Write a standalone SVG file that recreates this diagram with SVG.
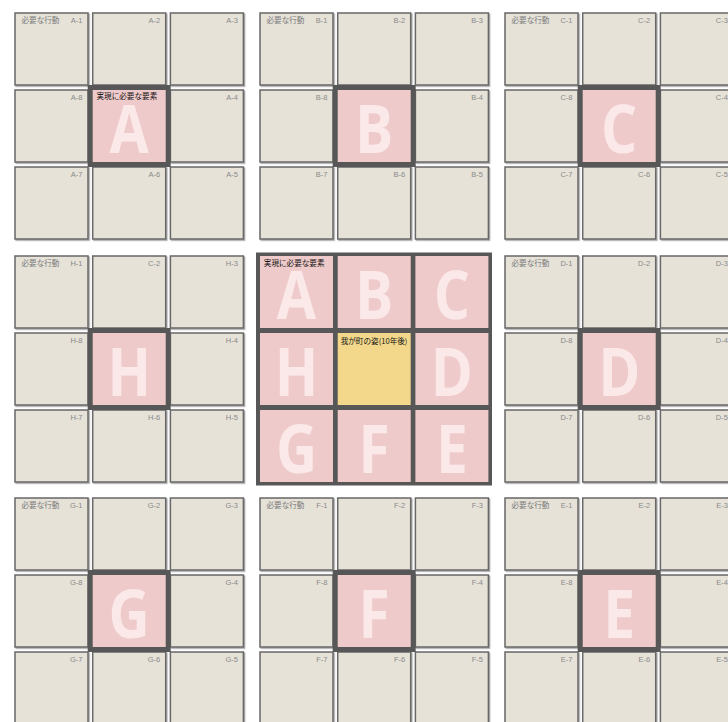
<svg xmlns="http://www.w3.org/2000/svg" width="728" height="722" viewBox="0 0 728 722">
<defs>
<style>
.cell{fill:#e6e2d8;stroke:#676767;stroke-width:1.5}
.dark{fill:#575757}
.pink{fill:#efcaca}
.yel{fill:#f3d88b}
.lbl{font-family:"Liberation Sans",Arial,sans-serif;font-size:7.5px;fill:#8a8a8a;text-anchor:end}
.act{font-family:"Noto Sans CJK JP","Noto Sans",sans-serif;font-size:7.6px;fill:#7a7a7a}
.req{font-family:"Noto Sans CJK JP","Noto Sans",sans-serif;font-size:7.6px;fill:#141414}
.big{font-family:"Open Sans","Noto Sans",sans-serif;font-weight:700;font-size:67px;fill:#fbe8e8;text-anchor:middle}
</style>
<filter id="sh" x="-5%" y="-5%" width="115%" height="115%">
<feDropShadow dx="1.2" dy="1.2" stdDeviation="0" flood-color="#a9a9a9"/>
</filter>
</defs>
<rect width="728" height="722" fill="#ffffff"/>

<!-- Block A -->
<g id="block-A">
<g filter="url(#sh)">
<rect class="cell" x="15" y="13" width="73" height="72"/>
<rect class="cell" x="92.7" y="13" width="73" height="72"/>
<rect class="cell" x="170.4" y="13" width="73" height="72"/>
<rect class="cell" x="15" y="90" width="73" height="72"/>
<rect class="cell" x="170.4" y="90" width="73" height="72"/>
<rect class="cell" x="15" y="167" width="73" height="72"/>
<rect class="cell" x="92.7" y="167" width="73" height="72"/>
<rect class="cell" x="170.4" y="167" width="73" height="72"/>
</g>
<rect class="dark" x="87.7" y="85" width="83" height="82"/>
<rect class="pink" x="92.7" y="90" width="73" height="72"/>
<text class="big" transform="translate(129.2,153) scale(0.85,1)">A</text>
<text class="req" x="96.5" y="99">実現に必要な要素</text>
<text class="act" x="21.5" y="23">必要な行動</text>
<text class="lbl" x="82.5" y="23">A-1</text>
<text class="lbl" x="160.2" y="23">A-2</text>
<text class="lbl" x="237.9" y="23">A-3</text>
<text class="lbl" x="237.9" y="100">A-4</text>
<text class="lbl" x="237.9" y="177">A-5</text>
<text class="lbl" x="160.2" y="177">A-6</text>
<text class="lbl" x="82.5" y="177">A-7</text>
<text class="lbl" x="82.5" y="100">A-8</text>
</g>

<!-- Block B -->
<g id="block-B">
<g filter="url(#sh)">
<rect class="cell" x="260" y="13" width="73" height="72"/>
<rect class="cell" x="337.7" y="13" width="73" height="72"/>
<rect class="cell" x="415.4" y="13" width="73" height="72"/>
<rect class="cell" x="260" y="90" width="73" height="72"/>
<rect class="cell" x="415.4" y="90" width="73" height="72"/>
<rect class="cell" x="260" y="167" width="73" height="72"/>
<rect class="cell" x="337.7" y="167" width="73" height="72"/>
<rect class="cell" x="415.4" y="167" width="73" height="72"/>
</g>
<rect class="dark" x="332.7" y="85" width="83" height="82"/>
<rect class="pink" x="337.7" y="90" width="73" height="72"/>
<text class="big" transform="translate(374.2,153) scale(0.85,1)">B</text>
<text class="act" x="266.5" y="23">必要な行動</text>
<text class="lbl" x="327.5" y="23">B-1</text>
<text class="lbl" x="405.2" y="23">B-2</text>
<text class="lbl" x="482.9" y="23">B-3</text>
<text class="lbl" x="482.9" y="100">B-4</text>
<text class="lbl" x="482.9" y="177">B-5</text>
<text class="lbl" x="405.2" y="177">B-6</text>
<text class="lbl" x="327.5" y="177">B-7</text>
<text class="lbl" x="327.5" y="100">B-8</text>
</g>

<!-- Block C -->
<g id="block-C">
<g filter="url(#sh)">
<rect class="cell" x="505" y="13" width="73" height="72"/>
<rect class="cell" x="582.7" y="13" width="73" height="72"/>
<rect class="cell" x="660.4" y="13" width="73" height="72"/>
<rect class="cell" x="505" y="90" width="73" height="72"/>
<rect class="cell" x="660.4" y="90" width="73" height="72"/>
<rect class="cell" x="505" y="167" width="73" height="72"/>
<rect class="cell" x="582.7" y="167" width="73" height="72"/>
<rect class="cell" x="660.4" y="167" width="73" height="72"/>
</g>
<rect class="dark" x="577.7" y="85" width="83" height="82"/>
<rect class="pink" x="582.7" y="90" width="73" height="72"/>
<text class="big" transform="translate(619.2,153) scale(0.85,1)">C</text>
<text class="act" x="511.5" y="23">必要な行動</text>
<text class="lbl" x="572.5" y="23">C-1</text>
<text class="lbl" x="650.2" y="23">C-2</text>
<text class="lbl" x="727.9" y="23">C-3</text>
<text class="lbl" x="727.9" y="100">C-4</text>
<text class="lbl" x="727.9" y="177">C-5</text>
<text class="lbl" x="650.2" y="177">C-6</text>
<text class="lbl" x="572.5" y="177">C-7</text>
<text class="lbl" x="572.5" y="100">C-8</text>
</g>

<!-- Block H -->
<g id="block-H">
<g filter="url(#sh)">
<rect class="cell" x="15" y="256" width="73" height="72"/>
<rect class="cell" x="92.7" y="256" width="73" height="72"/>
<rect class="cell" x="170.4" y="256" width="73" height="72"/>
<rect class="cell" x="15" y="333" width="73" height="72"/>
<rect class="cell" x="170.4" y="333" width="73" height="72"/>
<rect class="cell" x="15" y="410" width="73" height="72"/>
<rect class="cell" x="92.7" y="410" width="73" height="72"/>
<rect class="cell" x="170.4" y="410" width="73" height="72"/>
</g>
<rect class="dark" x="87.7" y="328" width="83" height="82"/>
<rect class="pink" x="92.7" y="333" width="73" height="72"/>
<text class="big" transform="translate(129.2,396) scale(0.85,1)">H</text>
<text class="act" x="21.5" y="266">必要な行動</text>
<text class="lbl" x="82.5" y="266">H-1</text>
<text class="lbl" x="160.2" y="266">C-2</text>
<text class="lbl" x="237.9" y="266">H-3</text>
<text class="lbl" x="237.9" y="343">H-4</text>
<text class="lbl" x="237.9" y="420">H-5</text>
<text class="lbl" x="160.2" y="420">H-6</text>
<text class="lbl" x="82.5" y="420">H-7</text>
<text class="lbl" x="82.5" y="343">H-8</text>
</g>

<!-- Center block -->
<g id="block-center">
<rect class="dark" x="256" y="252.5" width="236" height="233"/>
<rect class="pink" x="260" y="256" width="73" height="72"/>
<rect class="pink" x="337.7" y="256" width="73" height="72"/>
<rect class="pink" x="415.4" y="256" width="73" height="72"/>
<rect class="pink" x="260" y="333" width="73" height="72"/>
<rect class="yel" x="337.7" y="333" width="73" height="72"/>
<rect class="pink" x="415.4" y="333" width="73" height="72"/>
<rect class="pink" x="260" y="410" width="73" height="72"/>
<rect class="pink" x="337.7" y="410" width="73" height="72"/>
<rect class="pink" x="415.4" y="410" width="73" height="72"/>
<text class="big" transform="translate(296.5,319) scale(0.85,1)">A</text>
<text class="big" transform="translate(374.2,319) scale(0.85,1)">B</text>
<text class="big" transform="translate(451.9,319) scale(0.85,1)">C</text>
<text class="big" transform="translate(296.5,396) scale(0.85,1)">H</text>
<text class="big" transform="translate(451.9,396) scale(0.85,1)">D</text>
<text class="big" transform="translate(296.5,473) scale(0.85,1)">G</text>
<text class="big" transform="translate(374.2,473) scale(0.85,1)">F</text>
<text class="big" transform="translate(451.9,473) scale(0.85,1)">E</text>
<text class="req" x="263.8" y="265.5">実現に必要な要素</text>
<text class="req" x="340.7" y="344" font-size="8">我が町の姿(10年後)</text>
</g>

<!-- Block D -->
<g id="block-D">
<g filter="url(#sh)">
<rect class="cell" x="505" y="256" width="73" height="72"/>
<rect class="cell" x="582.7" y="256" width="73" height="72"/>
<rect class="cell" x="660.4" y="256" width="73" height="72"/>
<rect class="cell" x="505" y="333" width="73" height="72"/>
<rect class="cell" x="660.4" y="333" width="73" height="72"/>
<rect class="cell" x="505" y="410" width="73" height="72"/>
<rect class="cell" x="582.7" y="410" width="73" height="72"/>
<rect class="cell" x="660.4" y="410" width="73" height="72"/>
</g>
<rect class="dark" x="577.7" y="328" width="83" height="82"/>
<rect class="pink" x="582.7" y="333" width="73" height="72"/>
<text class="big" transform="translate(619.2,396) scale(0.85,1)">D</text>
<text class="act" x="511.5" y="266">必要な行動</text>
<text class="lbl" x="572.5" y="266">D-1</text>
<text class="lbl" x="650.2" y="266">D-2</text>
<text class="lbl" x="727.9" y="266">D-3</text>
<text class="lbl" x="727.9" y="343">D-4</text>
<text class="lbl" x="727.9" y="420">D-5</text>
<text class="lbl" x="650.2" y="420">D-6</text>
<text class="lbl" x="572.5" y="420">D-7</text>
<text class="lbl" x="572.5" y="343">D-8</text>
</g>

<!-- Block G -->
<g id="block-G">
<g filter="url(#sh)">
<rect class="cell" x="15" y="498" width="73" height="72"/>
<rect class="cell" x="92.7" y="498" width="73" height="72"/>
<rect class="cell" x="170.4" y="498" width="73" height="72"/>
<rect class="cell" x="15" y="575" width="73" height="72"/>
<rect class="cell" x="170.4" y="575" width="73" height="72"/>
<rect class="cell" x="15" y="652" width="73" height="72"/>
<rect class="cell" x="92.7" y="652" width="73" height="72"/>
<rect class="cell" x="170.4" y="652" width="73" height="72"/>
</g>
<rect class="dark" x="87.7" y="570" width="83" height="82"/>
<rect class="pink" x="92.7" y="575" width="73" height="72"/>
<text class="big" transform="translate(129.2,638) scale(0.85,1)">G</text>
<text class="act" x="21.5" y="508">必要な行動</text>
<text class="lbl" x="82.5" y="508">G-1</text>
<text class="lbl" x="160.2" y="508">G-2</text>
<text class="lbl" x="237.9" y="508">G-3</text>
<text class="lbl" x="237.9" y="585">G-4</text>
<text class="lbl" x="237.9" y="662">G-5</text>
<text class="lbl" x="160.2" y="662">G-6</text>
<text class="lbl" x="82.5" y="662">G-7</text>
<text class="lbl" x="82.5" y="585">G-8</text>
</g>

<!-- Block F -->
<g id="block-F">
<g filter="url(#sh)">
<rect class="cell" x="260" y="498" width="73" height="72"/>
<rect class="cell" x="337.7" y="498" width="73" height="72"/>
<rect class="cell" x="415.4" y="498" width="73" height="72"/>
<rect class="cell" x="260" y="575" width="73" height="72"/>
<rect class="cell" x="415.4" y="575" width="73" height="72"/>
<rect class="cell" x="260" y="652" width="73" height="72"/>
<rect class="cell" x="337.7" y="652" width="73" height="72"/>
<rect class="cell" x="415.4" y="652" width="73" height="72"/>
</g>
<rect class="dark" x="332.7" y="570" width="83" height="82"/>
<rect class="pink" x="337.7" y="575" width="73" height="72"/>
<text class="big" transform="translate(374.2,638) scale(0.85,1)">F</text>
<text class="act" x="266.5" y="508">必要な行動</text>
<text class="lbl" x="327.5" y="508">F-1</text>
<text class="lbl" x="405.2" y="508">F-2</text>
<text class="lbl" x="482.9" y="508">F-3</text>
<text class="lbl" x="482.9" y="585">F-4</text>
<text class="lbl" x="482.9" y="662">F-5</text>
<text class="lbl" x="405.2" y="662">F-6</text>
<text class="lbl" x="327.5" y="662">F-7</text>
<text class="lbl" x="327.5" y="585">F-8</text>
</g>

<!-- Block E -->
<g id="block-E">
<g filter="url(#sh)">
<rect class="cell" x="505" y="498" width="73" height="72"/>
<rect class="cell" x="582.7" y="498" width="73" height="72"/>
<rect class="cell" x="660.4" y="498" width="73" height="72"/>
<rect class="cell" x="505" y="575" width="73" height="72"/>
<rect class="cell" x="660.4" y="575" width="73" height="72"/>
<rect class="cell" x="505" y="652" width="73" height="72"/>
<rect class="cell" x="582.7" y="652" width="73" height="72"/>
<rect class="cell" x="660.4" y="652" width="73" height="72"/>
</g>
<rect class="dark" x="577.7" y="570" width="83" height="82"/>
<rect class="pink" x="582.7" y="575" width="73" height="72"/>
<text class="big" transform="translate(619.2,638) scale(0.85,1)">E</text>
<text class="act" x="511.5" y="508">必要な行動</text>
<text class="lbl" x="572.5" y="508">E-1</text>
<text class="lbl" x="650.2" y="508">E-2</text>
<text class="lbl" x="727.9" y="508">E-3</text>
<text class="lbl" x="727.9" y="585">E-4</text>
<text class="lbl" x="727.9" y="662">E-5</text>
<text class="lbl" x="650.2" y="662">E-6</text>
<text class="lbl" x="572.5" y="662">E-7</text>
<text class="lbl" x="572.5" y="585">E-8</text>
</g>
</svg>
